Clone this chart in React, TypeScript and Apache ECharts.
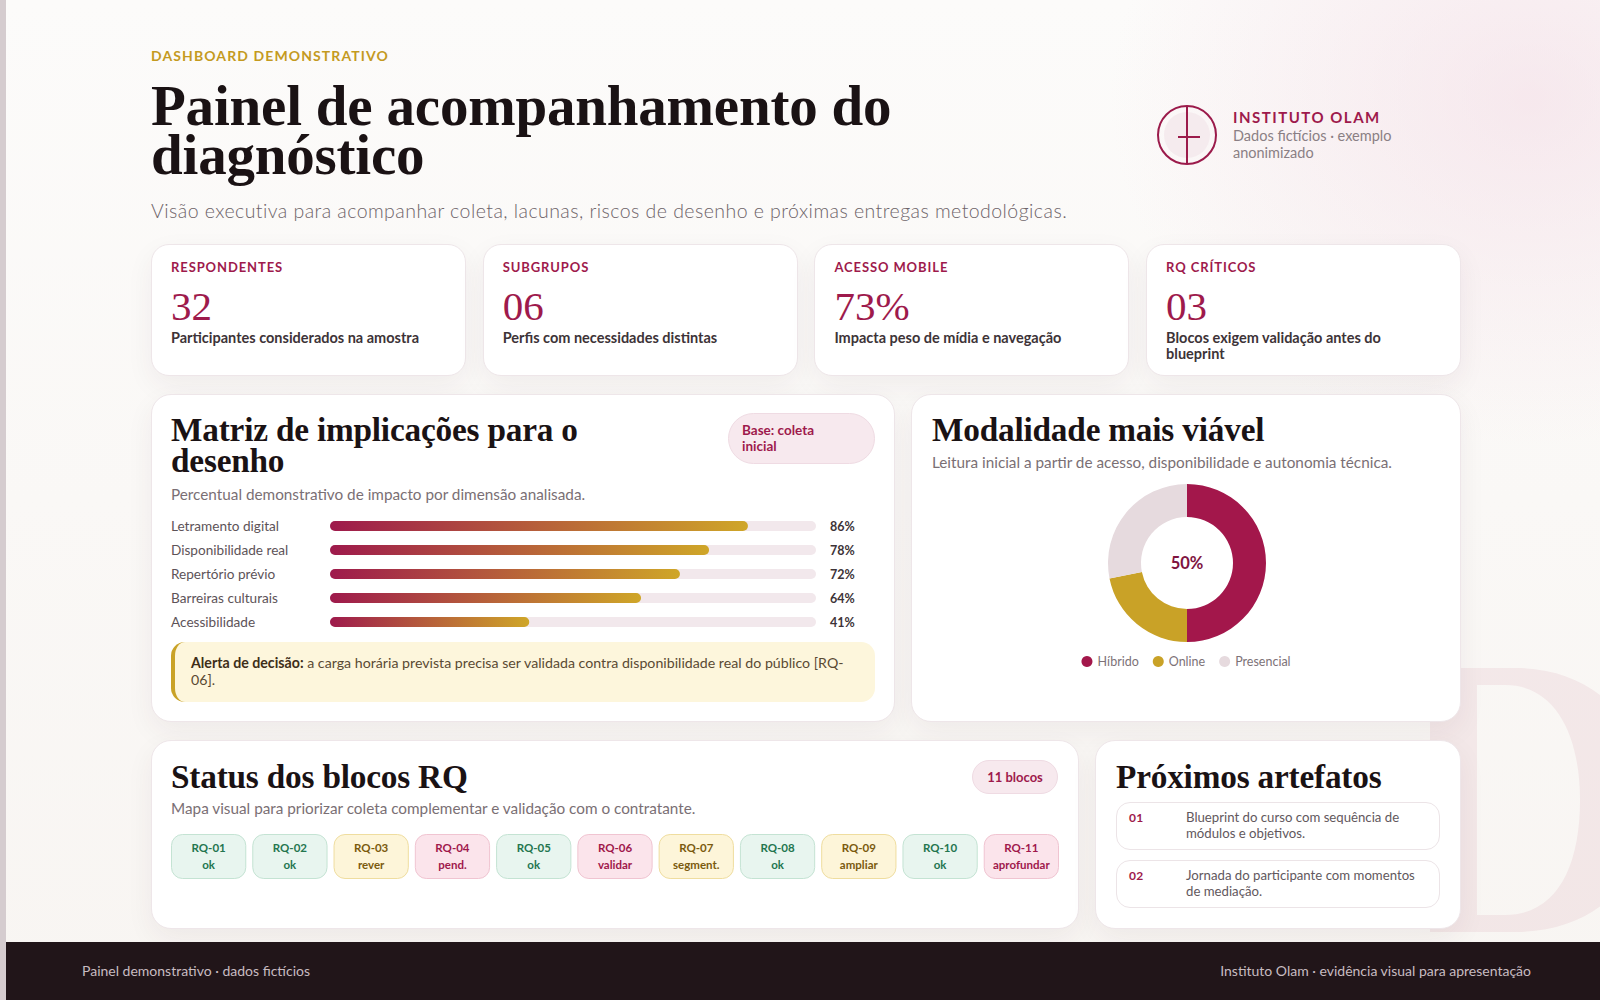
import React, { useEffect, useRef } from "react";
import * as echarts from "echarts";

const SANS = "Lato, 'Noto Sans', sans-serif";
const SERIF = "'Liberation Serif', 'DejaVu Serif', serif";
const CRIMSON = "#9e1a4c";
const GOLD = "#c9a227";
const INK = "#1a1214";

// KPI tiles
const kpiLabels = ["RESPONDENTES", "SUBGRUPOS", "ACESSO MOBILE", "RQ CRÍTICOS"];
const kpiValues = ["32", "06", "73%", "03"];
const kpiNotes = [
  "Participantes considerados na amostra",
  "Perfis com necessidades distintas",
  "Impacta peso de mídia e navegação",
  "Blocos exigem validação antes do blueprint",
];

// Impact matrix (percent per dimension)
const dimensions = [
  "Letramento digital",
  "Disponibilidade real",
  "Repertório prévio",
  "Barreiras culturais",
  "Acessibilidade",
];
const impactPct = [86, 78, 72, 64, 41];

// Preferred modality (respondent counts)
const modalities = ["Híbrido", "Online", "Presencial"];
const modalityCounts = [16, 7, 9];
const modalityColors = ["#a3174b", "#c9a227", "#e6dade"];

// RQ block status
const rqCodes = ["RQ-01", "RQ-02", "RQ-03", "RQ-04", "RQ-05", "RQ-06", "RQ-07", "RQ-08", "RQ-09", "RQ-10", "RQ-11"];
const rqStatus = ["ok", "ok", "rever", "pend.", "ok", "validar", "segment.", "ok", "ampliar", "ok", "aprofundar"];
const rqTone = ["ok", "ok", "warn", "risk", "ok", "risk", "warn", "ok", "warn", "ok", "risk"];

// Upcoming deliverables
const nextCodes = ["01", "02"];
const nextSteps = [
  "Blueprint do curso com sequência de módulos e objetivos.",
  "Jornada do participante com momentos de mediação.",
];

const chipPalette: Record<string, { fill: string; stroke: string; text: string }> = {
  ok: { fill: "#e8f5ef", stroke: "#c4e3d3", text: "#24764f" },
  warn: { fill: "#fdf5d9", stroke: "#efdd9f", text: "#7a5a0e" },
  risk: { fill: "#fbe4eb", stroke: "#f0c4d1", text: "#a0184b" },
};

function EChart({ option, style }: { option: any; style: React.CSSProperties }) {
  const ref = useRef<HTMLDivElement>(null);
  useEffect(() => {
    const chart = echarts.init(ref.current!, null, { renderer: "svg" });
    chart.setOption(option);
    return () => chart.dispose();
  }, []);
  return <div ref={ref} style={style} />;
}

const impactOption = {
  animation: false,
  grid: { left: 159, right: 59, top: 0, bottom: 0 },
  xAxis: { type: "value", min: 0, max: 100, show: false },
  yAxis: [
    {
      type: "category",
      data: dimensions,
      inverse: true,
      axisLine: { show: false },
      axisTick: { show: false },
      axisLabel: { align: "left", margin: 159, color: "#5d5358", fontSize: 13.6, fontFamily: SANS },
    },
    {
      type: "category",
      data: impactPct.map((v) => v + "%"),
      inverse: true,
      position: "right",
      axisLine: { show: false },
      axisTick: { show: false },
      axisLabel: { align: "left", margin: 14, color: "#3d3337", fontSize: 12.5, fontWeight: "bold", fontFamily: SANS },
    },
  ],
  series: [
    {
      type: "bar",
      data: impactPct,
      barWidth: 10,
      showBackground: true,
      backgroundStyle: { color: "#f2e8ec", borderRadius: 5 },
      itemStyle: {
        borderRadius: 5,
        color: new echarts.graphic.LinearGradient(0, 0, 1, 0, [
          { offset: 0, color: "#9e1a4c" },
          { offset: 1, color: "#cfa628" },
        ]),
      },
    },
  ],
};

const modalityTotal = modalityCounts.reduce((a, b) => a + b, 0);
const leadShare = Math.round((modalityCounts[0] / modalityTotal) * 100) + "%";

const modalityOption = {
  animation: false,
  color: modalityColors,
  legend: {
    top: 166,
    left: "center",
    icon: "circle",
    itemWidth: 11,
    itemHeight: 11,
    itemGap: 14,
    textStyle: { color: "#7d7277", fontSize: 12.5, fontFamily: SANS },
  },
  series: [
    {
      type: "pie",
      radius: [46, 79],
      center: [276, 79],
      startAngle: 90,
      label: { show: false },
      labelLine: { show: false },
      data: modalities.map((name, i) => ({ name, value: modalityCounts[i] })),
    },
  ],
  graphic: [
    {
      type: "text",
      x: 276,
      y: 79,
      style: {
        text: leadShare,
        textAlign: "center",
        textVerticalAlign: "middle",
        fill: "#80133f",
        font: `bold 16.5px ${SANS}`,
      },
    },
  ],
};

const statusOption = {
  animation: false,
  grid: { left: 0, right: 0, top: 0, bottom: 0 },
  xAxis: { type: "category", data: rqCodes, show: false },
  yAxis: { type: "value", min: 0, max: 1, show: false },
  series: [
    {
      type: "custom",
      data: rqCodes.map((_, i) => [i]),
      encode: { x: 0 },
      renderItem: (params: any, api: any) => {
        const i = api.value(0);
        const cx = api.coord([i, 0])[0];
        const band = api.size([1, 0])[0];
        const w = band - 7;
        const cs = params.coordSys;
        const pal = chipPalette[rqTone[i]];
        return {
          type: "group",
          children: [
            {
              type: "rect",
              shape: { x: cx - w / 2, y: cs.y + 0.5, width: w, height: cs.height - 1, r: 11 },
              style: { fill: pal.fill, stroke: pal.stroke, lineWidth: 1 },
            },
            {
              type: "text",
              style: {
                text: rqCodes[i] + "\n" + rqStatus[i],
                x: cx,
                y: cs.y + cs.height / 2 - 0.5,
                textAlign: "center",
                textVerticalAlign: "middle",
                fill: pal.text,
                font: `bold 11.5px ${SANS}`,
                lineHeight: 17,
              },
            },
          ],
        };
      },
    },
  ],
};

const card: React.CSSProperties = {
  position: "absolute",
  background: "#ffffff",
  border: "1px solid #eee6e9",
  borderRadius: 20,
  boxShadow: "0 10px 28px rgba(70, 30, 45, 0.06)",
  boxSizing: "border-box",
};

const abs = (left: number, top: number, extra: React.CSSProperties = {}): React.CSSProperties => ({
  position: "absolute",
  left,
  top,
  whiteSpace: "nowrap",
  ...extra,
});

const cardTitle: React.CSSProperties = {
  fontFamily: SERIF,
  fontWeight: 700,
  fontSize: 33.3,
  lineHeight: "31px",
  color: INK,
  letterSpacing: "-0.2px",
};

const cardSub: React.CSSProperties = {
  fontFamily: SANS,
  fontSize: 15.3,
  lineHeight: "18px",
  color: "#7a6f74",
};

export default function App() {
  return (
    <div
      style={{
        position: "absolute",
        left: 0,
        top: 0,
        width: 1600,
        height: 1000,
        overflow: "hidden",
        fontFamily: SANS,
        background:
          "radial-gradient(ellipse 560px 460px at 1530px 100px, rgba(241, 214, 225, 0.5), rgba(241, 214, 225, 0) 75%), linear-gradient(180deg, #fcfbfa 0%, #f8f5f2 100%)",
      }}
    >
      {/* left edge strip */}
      <div style={{ position: "absolute", left: 0, top: 0, width: 6, height: 1000, background: "#d5cccf" }} />

      {/* decorative initial, drawn as an outline shape */}
      <svg style={{ position: "absolute", left: 0, top: 0 }} width="1600" height="1000">
        <path
          fillRule="evenodd"
          fill="rgba(175, 45, 90, 0.07)"
          d="M1430,668 H1515 C1600,668 1650,730 1650,800 C1650,875 1600,932 1515,932 H1430 Z M1477,685 H1505 C1556,685 1580,736 1580,800 C1580,868 1556,915 1505,915 H1477 Z"
        />
      </svg>

      {/* header */}
      <div style={abs(151, 47, { fontSize: 14, lineHeight: "18px", fontWeight: 700, letterSpacing: "1.1px", color: "#c49a1f" })}>
        DASHBOARD DEMONSTRATIVO
      </div>
      <div style={abs(151, 81, { fontFamily: SERIF, fontWeight: 700, fontSize: 57, lineHeight: "49px", color: INK, letterSpacing: "-0.2px" })}>
        Painel de acompanhamento do
        <br />
        diagnóstico
      </div>
      <div style={abs(151, 199, { fontSize: 19.5, lineHeight: "24px", color: "#6d6368", fontWeight: 300, letterSpacing: "0.45px" })}>
        Visão executiva para acompanhar coleta, lacunas, riscos de desenho e próximas entregas metodológicas.
      </div>

      {/* brand */}
      <svg style={{ position: "absolute", left: 1155, top: 103 }} width="64" height="64" viewBox="0 0 64 64">
        <circle cx="32" cy="32" r="23" fill="#f5ebee" />
        <circle cx="32" cy="32" r="29" fill="none" stroke="#9b1b4b" strokeWidth="2" />
        <line x1="32" y1="3" x2="32" y2="61" stroke="#9b1b4b" strokeWidth="2" />
        <line x1="23" y1="34" x2="45" y2="34" stroke="#9b1b4b" strokeWidth="2" />
      </svg>
      <div style={abs(1233, 107, { fontSize: 15, lineHeight: "20px", fontWeight: 700, letterSpacing: "1.5px", color: CRIMSON })}>
        INSTITUTO OLAM
      </div>
      <div style={abs(1233, 128, { fontSize: 14.5, lineHeight: "16.5px", color: "#8a7f84", whiteSpace: "normal", width: 175 })}>
        Dados fictícios · exemplo anonimizado
      </div>

      {/* KPI tiles */}
      {kpiLabels.map((label, i) => (
        <div key={label} style={{ ...card, left: 151 + i * 331.7, top: 244, width: 315, height: 132, borderRadius: 18 }}>
          <div style={abs(19, 14, { fontSize: 13, lineHeight: "16px", fontWeight: 700, letterSpacing: "0.9px", color: CRIMSON })}>
            {label}
          </div>
          <div style={abs(19, 39, { fontFamily: SERIF, fontSize: 41, lineHeight: "44px", color: CRIMSON })}>
            {kpiValues[i]}
          </div>
          <div
            style={abs(19, 85, {
              fontSize: 14.5,
              lineHeight: "16px",
              fontWeight: 700,
              color: "#3d3337",
              whiteSpace: "normal",
              width: 262,
            })}
          >
            {kpiNotes[i]}
          </div>
        </div>
      ))}

      {/* impact matrix */}
      <div style={{ ...card, left: 151, top: 394, width: 744, height: 328 }}>
        <div style={abs(19, 19, cardTitle)}>
          Matriz de implicações para o
          <br />
          desenho
        </div>
        <div
          style={abs(576, 18, {
            width: 147,
            height: 51,
            boxSizing: "border-box",
            borderRadius: 26,
            background: "#f7e9ee",
            border: "1px solid #efdbe3",
            padding: "8px 0 0 13px",
            fontSize: 13.5,
            lineHeight: "16px",
            fontWeight: 700,
            color: CRIMSON,
          })}
        >
          Base: coleta
          <br />
          inicial
        </div>
        <div style={abs(19, 90, cardSub)}>Percentual demonstrativo de impacto por dimensão analisada.</div>
        <EChart option={impactOption} style={{ position: "absolute", left: 16, top: 119, width: 707, height: 120 }} />
        <div
          style={abs(19, 247, {
            width: 704,
            height: 60,
            boxSizing: "border-box",
            background: "#fdf6dc",
            borderLeft: `4px solid ${GOLD}`,
            borderRadius: 14,
            padding: "12px 20px 0 16px",
            fontSize: 14.2,
            lineHeight: "17px",
            color: "#5a4a33",
          })}
        >
          <span style={{ fontWeight: 700, color: "#3e2e18" }}>Alerta de decisão:</span> a carga horária prevista precisa ser
          validada contra disponibilidade real do público [RQ-
          <br />
          06].
        </div>
      </div>

      {/* modality donut */}
      <div style={{ ...card, left: 911, top: 394, width: 550, height: 328 }}>
        <div style={abs(20, 19, cardTitle)}>Modalidade mais viável</div>
        <div style={abs(20, 58, cardSub)}>Leitura inicial a partir de acesso, disponibilidade e autonomia técnica.</div>
        <EChart option={modalityOption} style={{ position: "absolute", left: -1, top: 89, width: 550, height: 200 }} />
      </div>

      {/* RQ status */}
      <div style={{ ...card, left: 151, top: 740, width: 928, height: 189 }}>
        <div style={abs(19, 20, cardTitle)}>Status dos blocos RQ</div>
        <div
          style={abs(820, 19, {
            width: 86,
            height: 34,
            boxSizing: "border-box",
            borderRadius: 17,
            background: "#f7e9ee",
            border: "1px solid #efdbe3",
            textAlign: "center",
            fontSize: 13,
            lineHeight: "32px",
            fontWeight: 700,
            color: CRIMSON,
          })}
        >
          {rqCodes.length} blocos
        </div>
        <div style={abs(19, 58, cardSub)}>Mapa visual para priorizar coleta complementar e validação com o contratante.</div>
        <EChart option={statusOption} style={{ position: "absolute", left: 15.5, top: 93, width: 894, height: 45 }} />
      </div>

      {/* next deliverables */}
      <div style={{ ...card, left: 1095, top: 740, width: 366, height: 189 }}>
        <div style={abs(20, 20, cardTitle)}>Próximos artefatos</div>
        {nextSteps.map((text, i) => (
          <div
            key={i}
            style={abs(20, 61 + i * 58, {
              width: 324,
              height: 48,
              boxSizing: "border-box",
              border: "1px solid #ece4e7",
              borderRadius: 14,
              background: "#fff",
            })}
          >
            <div style={abs(12, 7, { fontSize: 12, lineHeight: "16px", fontWeight: 700, color: CRIMSON, letterSpacing: "0.4px" })}>
              {nextCodes[i]}
            </div>
            <div
              style={abs(69, 7, {
                fontSize: 13.2,
                lineHeight: "15.5px",
                color: "#62585d",
                whiteSpace: "normal",
                width: 246,
              })}
            >
              {text}
            </div>
          </div>
        ))}
      </div>

      {/* footer */}
      <div style={{ position: "absolute", left: 6, top: 942, width: 1594, height: 58, background: "#211519" }} />
      <div style={abs(82, 962, { fontSize: 14, lineHeight: "18px", color: "#c8bcc1" })}>
        Painel demonstrativo · dados fictícios
      </div>
      <div style={{ ...abs(0, 962, { fontSize: 14, lineHeight: "18px", color: "#c8bcc1" }), left: "auto", right: 69 }}>
        Instituto Olam · evidência visual para apresentação
      </div>
    </div>
  );
}
